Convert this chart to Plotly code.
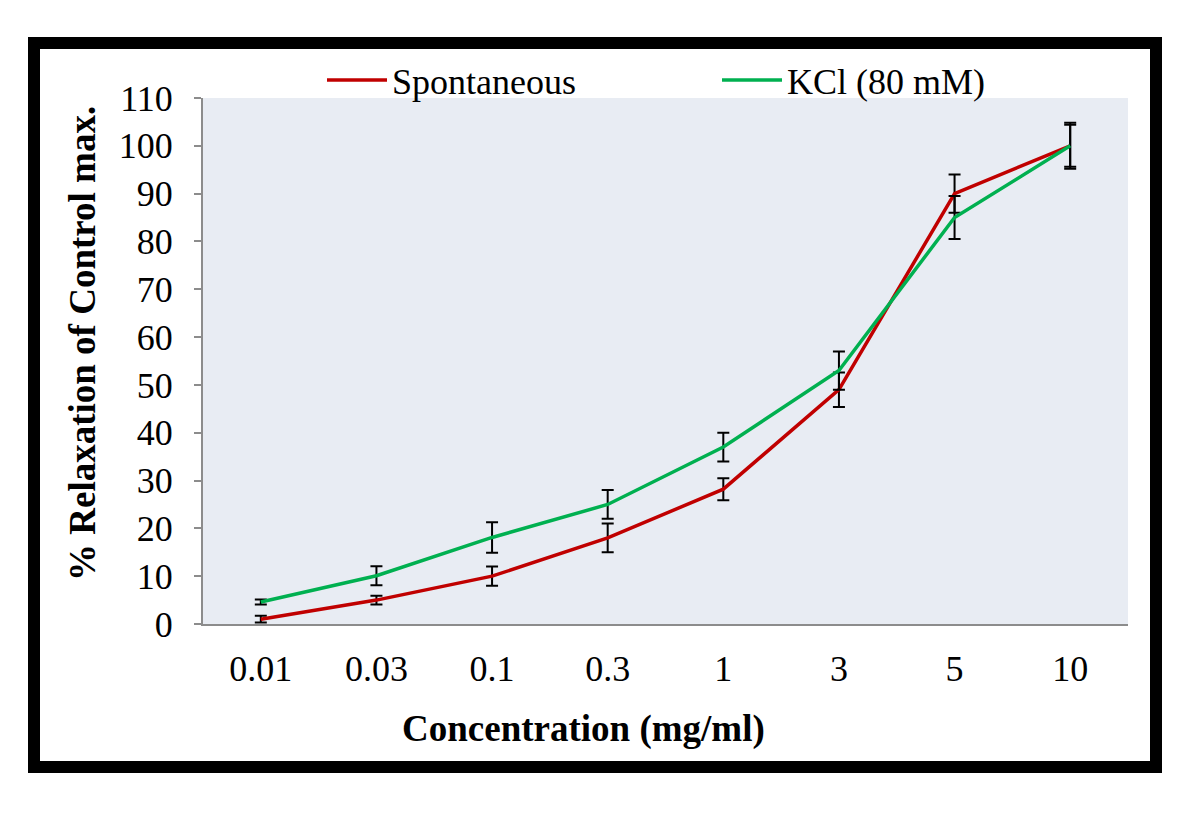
import plotly.graph_objects as go

concentrations = ["0.01", "0.03", "0.1", "0.3", "1", "3", "5", "10"]
spontaneous = [1.0, 5.0, 10.0, 18.0, 28.2, 49.0, 90.0, 100.0]
spontaneous_err = [0.7, 0.9, 2.0, 3.0, 2.3, 3.6, 4.0, 4.4]
kcl = [4.6, 10.1, 18.1, 25.0, 37.0, 53.0, 85.0, 100.0]
kcl_err = [0.5, 2.0, 3.2, 3.0, 3.0, 4.0, 4.5, 4.8]

FONT = "Liberation Serif"

fig = go.Figure()
fig.add_trace(go.Scatter(
    x=concentrations, y=spontaneous, mode="lines", name="Spontaneous",
    line=dict(color="#C00000", width=3.5),
    error_y=dict(type="data", array=spontaneous_err, visible=True,
                 color="black", thickness=2, width=6),
))
fig.add_trace(go.Scatter(
    x=concentrations, y=kcl, mode="lines", name="KCl (80 mM)",
    line=dict(color="#00B050", width=3.5),
    error_y=dict(type="data", array=kcl_err, visible=True,
                 color="black", thickness=2, width=6),
))

OFF = 8  # page body margin
L, R, T, B = 203 - OFF, 1128 - OFF, 98 - OFF, 624 - OFF
W, H = 1200, 816
pw, ph = R - L, B - T

def px(x):
    return (x - OFF - L) / pw

def py(y):
    return (B - (y - OFF)) / ph

fig.update_layout(
    width=W, height=H,
    margin=dict(l=L, r=W - R, t=T, b=H - B),
    paper_bgcolor="white",
    plot_bgcolor="#E8ECF3",
    font=dict(family=FONT, size=36, color="black"),
    showlegend=True,
    legend=dict(orientation="h", x=px(322), y=py(50), xanchor="left", yanchor="top",
                bgcolor="rgba(0,0,0,0)", font=dict(family=FONT, size=36),
                entrywidth=320, entrywidthmode="pixels", itemwidth=60),
    xaxis=dict(
        type="category", range=[-0.5, len(concentrations) - 0.5],
        showgrid=False, zeroline=False,
        showline=True, linecolor="#8C8C8C", linewidth=2,
        ticks="", tickfont=dict(family=FONT, size=36), ticklabelstandoff=12,
    ),
    yaxis=dict(
        range=[0, 110], dtick=10, showgrid=False, zeroline=False,
        showline=True, linecolor="#8C8C8C", linewidth=2,
        ticks="outside", ticklen=7, tickwidth=2, tickcolor="#8C8C8C",
        tickfont=dict(family=FONT, size=36), ticklabelstandoff=14,
    ),
    annotations=[
        dict(text="<b>% Relaxation of Control max.</b>", xref="paper", yref="paper",
             x=px(82), y=py(344), xanchor="center", yanchor="middle", textangle=-90,
             showarrow=False, font=dict(family=FONT, size=37)),
        dict(text="<b>Concentration (mg/ml)</b>", xref="paper", yref="paper",
             x=px(583), y=py(729), xanchor="center", yanchor="middle",
             showarrow=False, font=dict(family=FONT, size=37)),
    ],
    shapes=[dict(
        type="rect", xref="paper", yref="paper",
        x0=px(34), x1=px(1156), y0=py(767), y1=py(43),
        line=dict(color="black", width=12), fillcolor="rgba(0,0,0,0)", layer="above",
    )],
)

fig.write_html("out.html")
